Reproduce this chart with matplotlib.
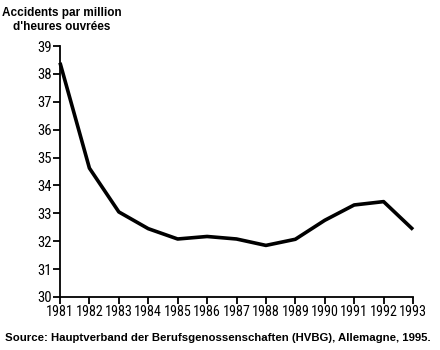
#!/usr/bin/env python
# -*- coding: utf-8 -*-

import matplotlib
matplotlib.use('Agg')
import matplotlib.pyplot as plt

# data
years = [1981, 1982, 1983, 1984, 1985, 1986, 1987, 1988, 1989, 1990, 1991, 1992, 1993]
accidents = [38.4, 34.62, 33.05, 32.45, 32.08, 32.17, 32.08, 31.85, 32.07, 32.75, 33.3, 33.42, 32.42]
yticks = list(range(30, 40))

title = "Accidents par million\nd'heures ouvrées"
source = 'Source: Hauptverband der Berufsgenossenschaften (HVBG), Allemagne, 1995.'

narrow = ['Roboto Condensed', 'DejaVu Sans']
bold = ['Liberation Sans', 'DejaVu Sans']


def main():
    fig = plt.figure(figsize=(4.4, 3.5), dpi=100)
    ax = fig.add_axes([60 / 440, 53 / 350, 353 / 440, 251 / 350])
    ax.plot(years, accidents, color='black', lw=2.6, solid_joinstyle='round',
            solid_capstyle='butt', clip_on=False)
    ax.set_xlim(years[0], years[-1])
    ax.set_ylim(yticks[0], yticks[-1])
    ax.set_xticks(years)
    ax.set_yticks(yticks)
    # spines
    for s in ['top', 'right']:
        ax.spines[s].set_visible(False)
    for s in ['left', 'bottom']:
        ax.spines[s].set_linewidth(1.3)
    ax.tick_params(direction='out', length=5, width=1.3, pad=1)
    for lab in ax.get_xticklabels():
        lab.set_family(narrow)
        lab.set_fontsize(10.2)
    for lab in ax.get_yticklabels():
        lab.set_family(narrow)
        lab.set_fontsize(10.6)
    # texts
    fig.text(62 / 440, 1 - 20 / 350, title, ha='center', va='center',
             fontsize=8.5, fontweight='bold', family=bold, linespacing=1.25)
    fig.text(5 / 440, 1 - 338 / 350, source, ha='left', va='center',
             fontsize=8.2, fontweight='bold', family=bold)
    plt.savefig('out.png', dpi=100)


if __name__ == '__main__':
    main()
